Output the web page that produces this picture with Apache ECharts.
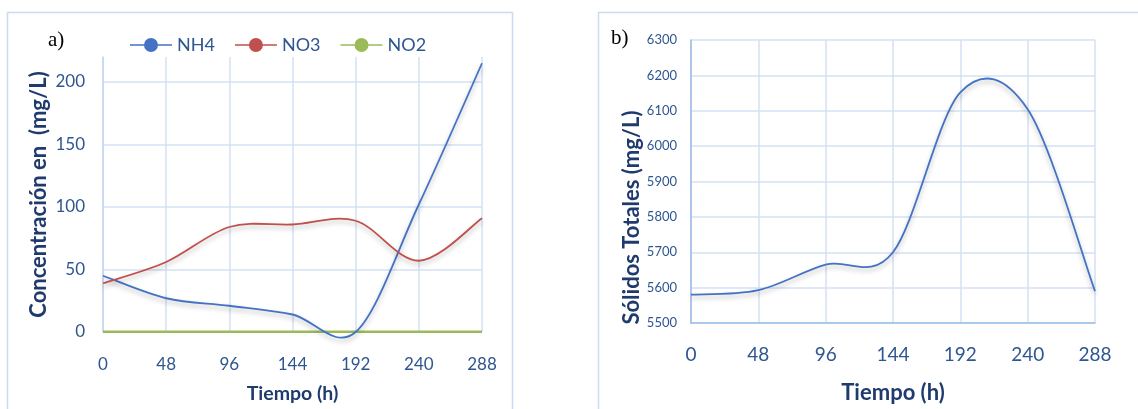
<!DOCTYPE html>
<html>
<head>
<meta charset="utf-8">
<script src="https://cdn.jsdelivr.net/npm/echarts@6/dist/echarts.min.js"></script>
<style>
html,body{margin:0;padding:0;background:#fff;}
#c{width:1138px;height:409px;}
</style>
</head>
<body>
<div id="c"></div>
<script>
// ---- data ----
const hours = [0, 48, 96, 144, 192, 240, 288];
const nh4 = [45, 27, 21, 14, 0, 102, 215];
const no3 = [39, 56, 84, 86, 89, 57, 91];
const no2 = [0.3, 0.3, 0.3, 0.3, 0.3, 0.3, 0.3];
const solidos = [5580, 5593, 5665, 5700, 6152, 6104, 5590];
const seriesNames = ['NH4', 'NO3', 'NO2'];
const xTitle = 'Tiempo (h)';
const yTitleA = 'Concentración en  (mg/L)';
const yTitleB = 'Sólidos Totales (mg/L)';

const pairs = arr => hours.map((h, i) => [h, arr[i]]);

const FONT = 'Lato';
const TICK = '#2E5690';
const TITLE = '#1F3B6E';
const GRID = '#D3E1F3';

// Smooth (Catmull-Rom style) line through data points, converted by the axes
function smoothSeries(name, arr, xi, yi, color, width, shadow) {
  return {
    name: name, type: 'custom', xAxisIndex: xi, yAxisIndex: yi,
    data: pairs(arr), encode: {x: 0, y: 1}, clip: false,
    itemStyle: {color: color},
    renderItem: function (params, api) {
      if (params.dataIndex !== 0) return null;
      const pts = hours.map((h, i) => api.coord([h, arr[i]]));
      const n = pts.length;
      let d = 'M' + pts[0][0] + ',' + pts[0][1];
      for (let i = 0; i < n - 1; i++) {
        const p0 = pts[Math.max(i - 1, 0)], p1 = pts[i], p2 = pts[i + 1], p3 = pts[Math.min(i + 2, n - 1)];
        const c1x = p1[0] + (p2[0] - p0[0]) / 6, c1y = p1[1] + (p2[1] - p0[1]) / 6;
        const c2x = p2[0] - (p3[0] - p1[0]) / 6, c2y = p2[1] - (p3[1] - p1[1]) / 6;
        d += ' C' + c1x + ',' + c1y + ' ' + c2x + ',' + c2y + ' ' + p2[0] + ',' + p2[1];
      }
      const style = {fill: 'none', stroke: color, lineWidth: width};
      if (shadow) Object.assign(style, {shadowColor: 'rgba(0,0,0,0.28)', shadowBlur: 5, shadowOffsetY: 3});
      return {type: 'path', shape: {pathData: d}, style: style};
    }
  };
}

const legendIcon = 'path://M0,6.2 L42,6.2 L42,7.8 L0,7.8 Z M14,7 A7,7 0 1 1 28,7 A7,7 0 1 1 14,7 Z';

const chart = echarts.init(document.getElementById('c'), null, {renderer: 'canvas'});
chart.setOption({
  animation: false,
  backgroundColor: '#fff',
  graphic: [
    {type: 'rect', shape: {x: 7.5, y: 12.5, width: 505, height: 420}, style: {fill: 'none', stroke: '#C9DCF2', lineWidth: 1.5}, z: -1},
    {type: 'rect', shape: {x: 598.5, y: 12.5, width: 560, height: 420}, style: {fill: 'none', stroke: '#C9DCF2', lineWidth: 1.5}, z: -1},
    {type: 'text', left: 48, top: 30, style: {text: 'a)', font: '21px "Liberation Serif"', fill: '#000'}},
    {type: 'text', left: 611, top: 28, style: {text: 'b)', font: '21px "Liberation Serif"', fill: '#000'}}
  ],
  legend: {
    data: seriesNames.map(n => ({name: n, icon: legendIcon})),
    left: 125, top: 31,
    itemWidth: 42, itemHeight: 14, itemGap: 20,
    textStyle: {fontFamily: FONT, fontSize: 18, color: TICK}
  },
  grid: [
    {left: 103, right: 656, top: 57, bottom: 75},
    {left: 691, right: 43, top: 40, bottom: 85}
  ],
  xAxis: [
    {
      gridIndex: 0, type: 'value', min: 0, max: 288, interval: 48,
      axisLine: {show: false}, axisTick: {show: false},
      axisLabel: {margin: 24, fontFamily: FONT, fontSize: 17, color: TICK},
      splitLine: {show: true, lineStyle: {color: GRID, width: 1.5}},
      name: xTitle, nameLocation: 'middle', nameGap: 52,
      nameTextStyle: {fontFamily: FONT, fontWeight: 'bold', fontSize: 19.5, color: TITLE}
    },
    {
      gridIndex: 1, type: 'value', min: 0, max: 288, interval: 48,
      axisLine: {show: true, lineStyle: {color: '#9CBDE6', width: 1.5}}, axisTick: {show: false},
      axisLabel: {margin: 22, fontFamily: FONT, fontSize: 19, color: TICK},
      splitLine: {show: true, lineStyle: {color: GRID, width: 1.5}},
      name: xTitle, nameLocation: 'middle', nameGap: 59,
      nameTextStyle: {fontFamily: FONT, fontWeight: 'bold', fontSize: 22, color: TITLE}
    }
  ],
  yAxis: [
    {
      gridIndex: 0, type: 'value', min: 0, max: 220, interval: 50,
      axisLine: {show: true, lineStyle: {color: '#C3D6EF', width: 1.5}}, axisTick: {show: false},
      axisLabel: {margin: 18, fontFamily: FONT, fontSize: 17, color: TICK, showMaxLabel: false},
      splitLine: {show: true, lineStyle: {color: [GRID, GRID, GRID, GRID, GRID, 'rgba(0,0,0,0)'], width: 1.5}},
      name: yTitleA, nameLocation: 'middle', nameGap: 53,
      nameTextStyle: {fontFamily: FONT, fontWeight: 'bold', fontSize: 22, color: TITLE}
    },
    {
      gridIndex: 1, type: 'value', min: 5500, max: 6300, interval: 100,
      axisLine: {show: true, lineStyle: {color: '#9CBDE6', width: 1.5}}, axisTick: {show: false},
      axisLabel: {margin: 14, fontFamily: FONT, fontSize: 13, color: TICK, formatter: v => String(v)},
      splitLine: {show: true, lineStyle: {color: GRID, width: 1.5}},
      name: yTitleB, nameLocation: 'middle', nameGap: 47,
      nameTextStyle: {fontFamily: FONT, fontWeight: 'bold', fontSize: 22, color: TITLE, padding: [0, 72, 0, 0]}
    }
  ],
  series: [
    smoothSeries('NO2', no2, 0, 0, '#9BBB59', 2.5, false),
    smoothSeries('NH4', nh4, 0, 0, '#4472C4', 1.8, true),
    smoothSeries('NO3', no3, 0, 0, '#C0504D', 1.8, true),
    smoothSeries('Sólidos Totales', solidos, 1, 1, '#4472C4', 1.8, true)
  ]
});
</script>
</body>
</html>
